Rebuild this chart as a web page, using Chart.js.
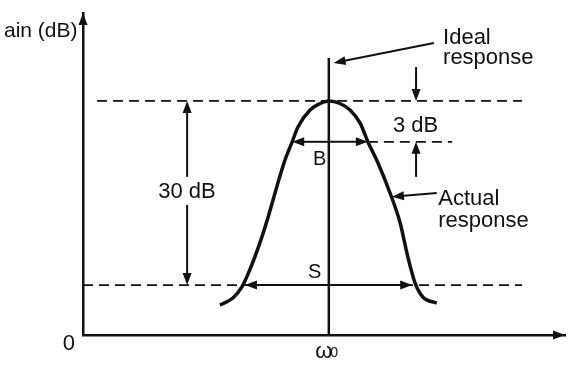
<!DOCTYPE html>
<html lang="en">
<head>
    <meta charset="UTF-8">
    <title>Band-pass filter response</title>
    <script src="https://cdn.jsdelivr.net/npm/chart.js"></script>
    <style>
        * { margin: 0; padding: 0; box-sizing: border-box; }
        body { background: #fff; width: 568px; height: 365px; overflow: hidden; }
        .chart-container { position: relative; width: 568px; height: 365px; }
    </style>
</head>
<body>

<div class="chart-container">
    <canvas id="response-chart"></canvas>
</div>

<script>
    // drawing units: frequency 0..100, gain 0..100 (sketch, not to scale)
    const omega0 = 51;
    const idealTop = 86;
    const peakLevel = 72.7;
    const halfPowerLevel = 60;
    const stopLevel = 15.5;

    // actual response curve
    const actualX = [28.4, 31.1, 33.0, 34.6, 36.7, 38.4, 40.2, 41.9, 43.4, 44.6, 47.1, 49.2, 51.0,
                     53.3, 55.4, 57.5, 59.1, 61.2, 63.7, 65.8, 67.4, 68.9, 70.5, 73.4];
    const actualY = [9.3, 11.5, 15.0, 20.2, 28.6, 36.6, 46.0, 54.3, 60, 64.6, 69.9, 71.9, 72.7,
                     71.9, 69.9, 65.8, 60, 53.4, 44.1, 34.8, 24.2, 16.1, 11.8, 9.9];

    // dashed reference levels
    const refLevel  = [peakLevel, halfPowerLevel, stopLevel];
    const refStartX = [2.9, 59.1, 0];
    const refEndX   = [91.1, 76.6, 91.1];

    // arrows: from -> to (head at "to")
    const arrowFrom = [[omega0, 60], [omega0, 60], [omega0, 15.5], [omega0, 15.5],
                       [21.6, 49.1], [21.6, 40.4], [69.1, 83.2], [69.1, 49.1],
                       [72.8, 90.7], [73.4, 44.1], [0, 92], [93, 0]];
    const arrowTo   = [[43.4, 60], [59.1, 60], [33.6, 15.5], [68.3, 15.5],
                       [21.6, peakLevel], [21.6, stopLevel], [69.1, peakLevel], [69.1, halfPowerLevel],
                       [52.0, 84.5], [64.1, 42.9], [0, 100], [100, 0]];

    // text labels (left edge, baseline); last one is the subscript of ω0
    const labelText = ['ain (dB)', 'Ideal', 'response', 'Actual', 'response', '3 dB', '30 dB', 'B', 'S', '0'];
    const labelX    = [-16.4, 74.7, 74.7, 73.7, 73.7, 64.3, 15.6, 47.7, 46.7, 51.3];
    const labelY    = [92.5, 90.4, 84.2, 40.4, 33.5, 63.0, 42.5, 52.8, 17.7, -6.8];
    const labelSize = [21, 22, 22, 22, 22, 22, 22, 20, 20, 14];

    const ink = '#111';
    const fontFamily = "'Liberation Sans', Arial, sans-serif";

    const refSets = refLevel.map((lv, i) => ({
        data: [{ x: refStartX[i], y: lv }, { x: refEndX[i], y: lv }],
        borderColor: ink,
        borderWidth: 1.8,
        borderDash: [10, 6],
        pointRadius: 0,
        showLine: true
    }));

    const annotationPlugin = {
        id: 'sketchNotes',
        afterDatasetsDraw(chart) {
            const ctx = chart.ctx;
            const xs = chart.scales.x, ys = chart.scales.y;
            ctx.save();
            ctx.strokeStyle = ink;
            ctx.fillStyle = ink;
            ctx.lineWidth = 2;
            arrowFrom.forEach((f, i) => {
                const x1 = xs.getPixelForValue(f[0]), y1 = ys.getPixelForValue(f[1]);
                const x2 = xs.getPixelForValue(arrowTo[i][0]), y2 = ys.getPixelForValue(arrowTo[i][1]);
                const a = Math.atan2(y2 - y1, x2 - x1);
                ctx.beginPath();
                ctx.moveTo(x1, y1);
                ctx.lineTo(x2 - Math.cos(a) * 6, y2 - Math.sin(a) * 6);
                ctx.stroke();
                ctx.beginPath();
                ctx.moveTo(x2, y2);
                ctx.lineTo(x2 - 12 * Math.cos(a) - 4.5 * Math.sin(a), y2 - 12 * Math.sin(a) + 4.5 * Math.cos(a));
                ctx.lineTo(x2 - 12 * Math.cos(a) + 4.5 * Math.sin(a), y2 - 12 * Math.sin(a) - 4.5 * Math.cos(a));
                ctx.closePath();
                ctx.fill();
            });
            ctx.textAlign = 'left';
            ctx.textBaseline = 'alphabetic';
            labelText.forEach((t, i) => {
                ctx.font = labelSize[i] + 'px ' + fontFamily;
                ctx.fillText(t, xs.getPixelForValue(labelX[i]), ys.getPixelForValue(labelY[i]));
            });
            ctx.restore();
        }
    };

    const chartConfig = {
        type: 'scatter',
        data: {
            datasets: [
                {
                    label: 'Actual response',
                    data: actualX.map((x, i) => ({ x: x, y: actualY[i] })),
                    borderColor: ink,
                    borderWidth: 3.5,
                    cubicInterpolationMode: 'monotone',
                    pointRadius: 0,
                    showLine: true
                },
                {
                    label: 'Ideal response',
                    data: [{ x: omega0, y: 0 }, { x: omega0, y: idealTop }],
                    borderColor: ink,
                    borderWidth: 2.5,
                    pointRadius: 0,
                    showLine: true
                },
                ...refSets
            ]
        },
        options: {
            responsive: true,
            maintainAspectRatio: false,
            animation: false,
            layout: { padding: { top: 13, right: 3 } },
            plugins: { legend: { display: false }, tooltip: { enabled: false } },
            scales: {
                x: {
                    type: 'linear', min: 0, max: 100,
                    grid: { display: false, drawTicks: false },
                    border: { display: true, color: ink, width: 2.5 },
                    afterFit: s => { s.height = 30; s.paddingLeft = 0; s.paddingRight = 0; },
                    afterBuildTicks: s => { s.ticks = [{ value: omega0 }]; },
                    ticks: {
                        padding: 4,
                        labelOffset: -5,
                        color: ink,
                        font: { family: fontFamily, size: 22 },
                        callback: () => 'ω'
                    }
                },
                y: {
                    type: 'linear', min: 0, max: 100,
                    grid: { display: false, drawTicks: false },
                    border: { display: true, color: ink, width: 2.5 },
                    afterFit: s => { s.width = 83; s.paddingTop = 0; s.paddingBottom = 0; },
                    afterBuildTicks: s => { s.ticks = [{ value: 0 }]; },
                    ticks: {
                        padding: 8,
                        labelOffset: 9,
                        color: ink,
                        font: { family: fontFamily, size: 22 },
                        callback: () => '0'
                    }
                }
            }
        },
        plugins: [annotationPlugin]
    };

    const ctx = document.getElementById('response-chart').getContext('2d');
    new Chart(ctx, chartConfig);
</script>

</body>
</html>
